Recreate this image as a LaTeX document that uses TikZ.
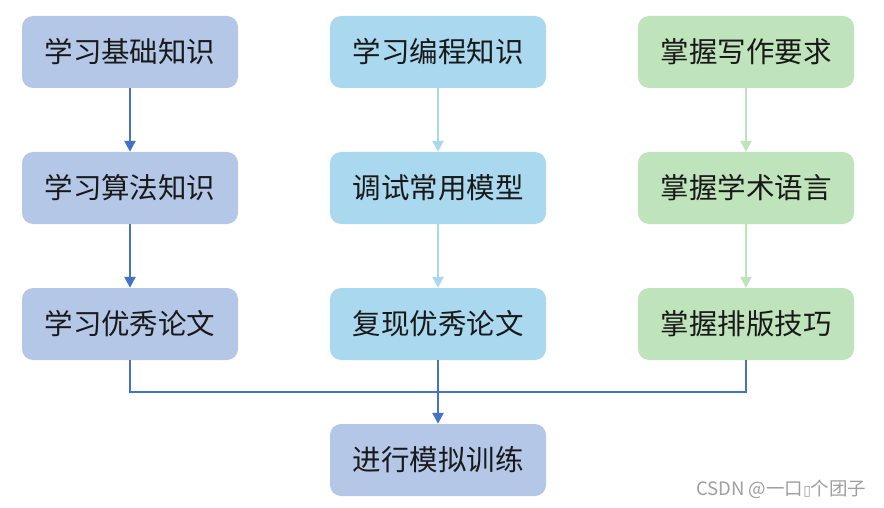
\documentclass[tikz,border=0pt]{standalone}
\usepackage{fontspec}
\newfontfamily\cjk{Noto Sans CJK SC}
\newfontfamily\symfont{DejaVu Sans}
\usetikzlibrary{arrows.meta}
\definecolor{boxblue}{HTML}{B4C7E7}
\definecolor{boxsky}{HTML}{A9D8EF}
\definecolor{boxgreen}{HTML}{BFE3BA}
\definecolor{linkblue}{HTML}{4472C4}
\definecolor{linksky}{HTML}{A9D8EF}
\definecolor{linkgreen}{HTML}{BFE3BA}
\begin{document}
\begin{tikzpicture}[x=1pt,y=-1pt,>={Triangle[length=11pt,width=11pt]}]
	\def \rowone{52}
	\def \rowtwo{188}
	\def \rowthree{324}
	\def \rowfour{460}
	\def \joinht{392}
	\tikzstyle{s-node}=[rounded corners=11pt,minimum width=216pt,minimum height=72pt,inner sep=0pt,text=black!90,font=\cjk\fontsize{28.5pt}{32pt}\selectfont]
	\tikzstyle{a-node}=[s-node,fill=boxblue]
	\tikzstyle{b-node}=[s-node,fill=boxsky]
	\tikzstyle{c-node}=[s-node,fill=boxgreen]
	\tikzstyle{link}=[line width=2.4pt]
	\useasboundingbox (0,0) rectangle (884,508);
	% basics column
	\node[a-node] 	(a1)	at (130,\rowone)		{学习基础知识};
	\node[a-node] 	(a2)	at (130,\rowtwo)		{学习算法知识};
	\node[a-node] 	(a3)	at (130,\rowthree)		{学习优秀论文};
	
	% coding column
	\node[b-node] 	(b1)	at (438,\rowone)		{学习编程知识};
	\node[b-node] 	(b2)	at (438,\rowtwo)		{调试常用模型};
	\node[b-node] 	(b3)	at (438,\rowthree)		{复现优秀论文};
	
	% writing column
	\node[c-node] 	(c1)	at (746,\rowone)		{掌握写作要求};
	\node[c-node] 	(c2)	at (746,\rowtwo)		{掌握学术语言};
	\node[c-node] 	(c3)	at (746,\rowthree)		{掌握排版技巧};
	
	% training
	\node[a-node] 	(d0)	at (438,\rowfour)		{进行模拟训练};
	\coordinate (join) at (438,\joinht);
	
	\path[link,->]
		(a1)	edge[linkblue]	(a2)
		(a2)	edge[linkblue]	(a3)
		%
		(b1)	edge[linksky]	(b2)
		(b2)	edge[linksky]	(b3)
		%
		(c1)	edge[linkgreen]	(c2)
		(c2)	edge[linkgreen]	(c3)
		%
		(b3)	edge[linkblue]	(d0);
	\draw[link,linkblue] (a3.south) |- (join) -| (c3.south);
	
	\node[text=black!38,font=\cjk\fontsize{18.5pt}{22pt}\selectfont,anchor=east] (mark) at (870,489) {CSDN @一口{\symfont\fontsize{14pt}{16pt}\selectfont ▯}个团子};
\end{tikzpicture}
\end{document}
